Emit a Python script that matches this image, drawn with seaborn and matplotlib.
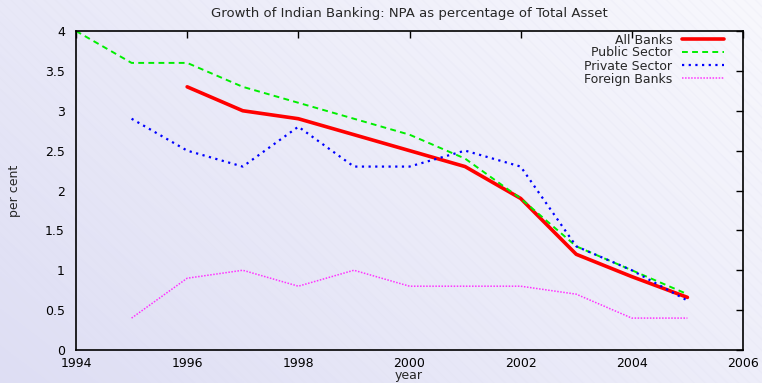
import numpy as np
import pandas as pd
import matplotlib
matplotlib.use("Agg")
import matplotlib.pyplot as plt
from matplotlib.patches import Rectangle
from matplotlib.ticker import FuncFormatter
import seaborn as sns

# NPA as % of total assets, by bank group
years_all = [1996, 1997, 1998, 1999, 2000, 2001, 2002, 2003, 2004, 2005]
all_banks = [3.3, 3.0, 2.9, 2.7, 2.5, 2.3, 1.9, 1.2, 0.92, 0.66]

years_public = [1994, 1995, 1996, 1997, 1998, 1999, 2000, 2001, 2002, 2003, 2004, 2005]
public_sector = [4.0, 3.6, 3.6, 3.3, 3.1, 2.9, 2.7, 2.4, 1.9, 1.3, 1.0, 0.7]

years_private = [1995, 1996, 1997, 1998, 1999, 2000, 2001, 2002, 2003, 2004, 2005]
private_sector = [2.9, 2.5, 2.3, 2.8, 2.3, 2.3, 2.5, 2.3, 1.3, 1.0, 0.62]

years_foreign = [1995, 1996, 1997, 1998, 1999, 2000, 2001, 2002, 2003, 2004, 2005]
foreign_banks = [0.4, 0.9, 1.0, 0.8, 1.0, 0.8, 0.8, 0.8, 0.7, 0.4, 0.4]

x_ticks = [1994, 1996, 1998, 2000, 2002, 2004, 2006]
y_ticks = [0, 0.5, 1, 1.5, 2, 2.5, 3, 3.5, 4]

sns.set_theme(style="white")
plt.rcParams["font.family"] = ["DejaVu Sans"]
plt.rcParams["font.size"] = 9

W, H = 762, 383
fig = plt.figure(figsize=(W / 100, H / 100), dpi=100)

# soft lavender diagonal gradient behind everything
bg = fig.add_axes([0, 0, 1, 1], zorder=-10)
gx, gy = np.meshgrid(np.linspace(0, 1, 400), np.linspace(0, 1, 200))
t = np.clip((gx * 0.6 + gy * 0.4), 0, 1)
c0 = np.array([222, 222, 244]) / 255.0
c1 = np.array([248, 248, 253]) / 255.0
img = c0[None, None, :] * (1 - t[..., None]) + c1[None, None, :] * t[..., None]
bg.imshow(img, origin="lower", extent=[0, 1, 0, 1], aspect="auto")
bg.add_patch(Rectangle((0, 0), 1, 1, facecolor="none", edgecolor=(0.88, 0.88, 0.94, 0.18),
                       hatch="\\\\\\", linewidth=0))
bg.set_xlim(0, 1)
bg.set_ylim(0, 1)
bg.axis("off")

left, right, top, bottom = 76, 743, 31, 350
ax = fig.add_axes([left / W, (H - bottom) / H, (right - left) / W, (bottom - top) / H])
ax.set_facecolor("none")

series = [
    ("All Banks", years_all, all_banks, "#ff0000", 2.6, None),
    ("Public Sector", years_public, public_sector, "#00ee00", 1.4, (3, 2.2)),
    ("Private Sector", years_private, private_sector, "#0000ff", 1.6, (1, 2.0)),
    ("Foreign Banks", years_foreign, foreign_banks, "#ff33ff", 1.1, (1, 1)),
]

for name, xs, ys, color, lw, dash in series:
    df = pd.DataFrame({"year": xs, "value": ys})
    line_kw = {}
    if dash is not None:
        line_kw["dashes"] = dash
    sns.lineplot(data=df, x="year", y="value", ax=ax, color=color, linewidth=lw,
                 label=name, **line_kw)

ax.set_xlim(1994, 2006)
ax.set_ylim(0, 4)
ax.set_xticks(x_ticks)
ax.set_yticks(y_ticks)
ax.yaxis.set_major_formatter(FuncFormatter(lambda v, p: f"{v:g}"))
ax.tick_params(axis="both", direction="in", length=5, width=1.0, colors="black",
               labelsize=9, top=True, right=True, labeltop=False, labelright=False)
ax.tick_params(axis="y", pad=8)
ax.tick_params(axis="x", pad=5)
for s in ax.spines.values():
    s.set_visible(True)
    s.set_color("black")
    s.set_linewidth(1.2)

ax.set_xlabel("year", fontsize=9)
ax.set_ylabel("per cent", fontsize=9)
ax.xaxis.set_label_coords((409 - left) / (right - left), -(369 - bottom) / (bottom - top))
ax.yaxis.set_label_coords(-(left - 21) / (right - left), 0.5)

fig.text((left + right) / 2 / W, 1 - 14 / H,
         "Growth of Indian Banking: NPA as percentage of Total Asset",
         ha="center", va="center", fontsize=9.5)

leg = ax.legend(loc="upper right", bbox_to_anchor=(1 - 17 / (right - left), 1.0),
                frameon=False, markerfirst=False, fontsize=9, handlelength=3.3,
                labelspacing=0.0, borderpad=0.2, handletextpad=0.8, borderaxespad=0.0)

fig.savefig("out.png", dpi=100)
